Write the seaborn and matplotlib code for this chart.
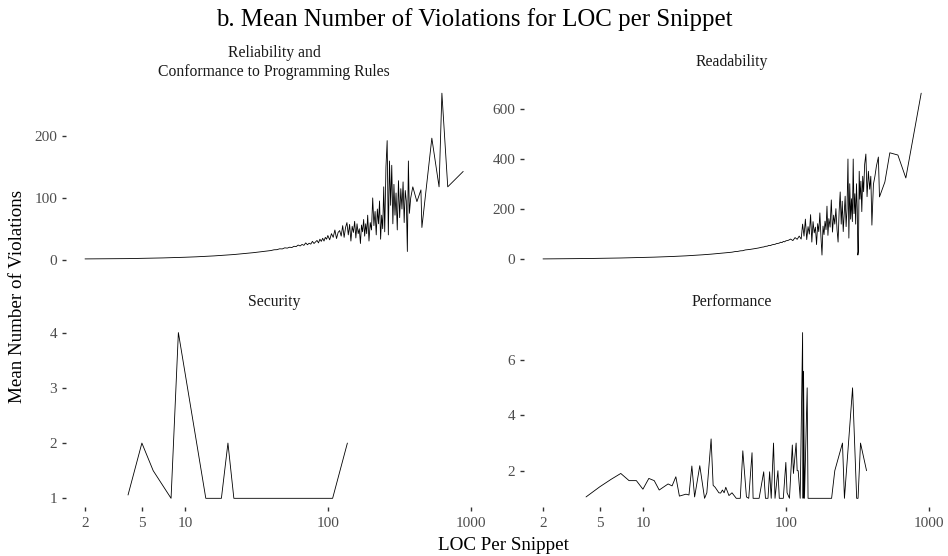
import numpy as np
import pandas as pd
import matplotlib
matplotlib.use("Agg")
import matplotlib.pyplot as plt
import seaborn as sns

# ---- mean violations per snippet, by lines of code ----
rel_loc = [2, 3, 4, 5, 6, 7, 8, 9, 10, 12,
           14, 16, 18, 20, 22, 24, 26, 28, 30, 32,
           34, 36, 38, 40, 42, 44, 46, 48, 50, 52,
           54, 56, 58, 60, 62, 64, 66, 68, 70, 72,
           74, 76, 78, 80, 82, 84, 86, 88, 90, 92,
           94, 96, 98, 100, 103, 106, 109, 112, 115, 118,
           121, 124, 127, 130, 133, 136, 139, 142, 145, 148,
           151, 154, 157, 160, 163, 166, 169, 172, 175, 178,
           181, 184, 187, 190, 194, 198, 202, 206, 210, 214,
           218, 222, 226, 230, 234, 238, 242, 246, 250, 255,
           260, 265, 270, 275, 280, 285, 290, 295, 300, 306,
           312, 318, 324, 330, 336, 342, 348, 354, 360, 366,
           372, 380, 393, 420, 448, 455, 534, 600, 628, 690,
           885]
rel_mean = [1, 1.2, 1.5, 1.9, 2.2, 2.6, 3.0, 3.3, 3.7, 4.4,
            5.2, 5.9, 6.7, 7.4, 8.1, 8.9, 9.6, 10.4, 11.1, 11.8,
            12.6, 13.3, 14.1, 14.6, 15.8, 16.0, 17.4, 17.2, 19.0, 18.5,
            20.0, 19.5, 21.5, 21.0, 23.5, 22.0, 24.5, 23.0, 27.0, 24.0,
            26.5, 25.0, 29.5, 26.0, 28.5, 31.0, 27.0, 33.0, 29.5, 34.5,
            30.0, 36.0, 33.0, 39.0, 32.0, 42.0, 36.0, 48.0, 34.0, 44.0,
            47.0, 38.0, 55.0, 36.0, 52.0, 60.0, 40.0, 57.0, 30.0, 54.0,
            44.0, 62.0, 35.0, 58.0, 42.0, 50.0, 26.0, 56.0, 45.0, 65.0,
            38.0, 58.0, 42.0, 72.0, 30.0, 60.0, 48.0, 100.0, 55.0, 78.0,
            40.0, 82.0, 58.0, 95.0, 33.0, 72.0, 50.0, 118.0, 45.0, 150.0,
            193.0, 40.0, 160.0, 88.0, 153.0, 58.0, 122.0, 72.0, 108.0, 48.0,
            128.0, 68.0, 115.0, 82.0, 126.0, 60.0, 112.0, 95.0, 13.0, 160.0,
            75.0, 100.0, 118.0, 94.0, 113.0, 52.0, 197.0, 118.0, 270.0, 118.0,
            143.0]

read_loc = [2, 3, 4, 5, 6, 7, 8, 9, 10, 12,
            14, 16, 18, 20, 22, 24, 26, 28, 30, 32,
            34, 36, 38, 40, 42, 44, 46, 48, 50, 52,
            54, 56, 58, 60, 62, 64, 66, 68, 70, 72,
            74, 76, 78, 80, 82, 84, 86, 88, 90, 92,
            94, 96, 98, 100, 104, 108, 112, 116, 120, 124,
            128, 131, 134, 137, 140, 143, 146, 149, 152, 155,
            158, 161, 164, 167, 170, 173, 176, 179, 182, 185,
            188, 191, 194, 197, 200, 204, 208, 212, 216, 220,
            224, 228, 232, 236, 240, 244, 248, 252, 256, 260,
            264, 268, 272, 276, 280, 284, 288, 292, 296, 300,
            304, 308, 312, 316, 319, 322, 326, 330, 335, 340,
            345, 350, 356, 363, 370, 378, 386, 393, 400, 410,
            420, 430, 444, 452, 493, 534, 608, 691, 885]
read_mean = [0.5, 1.2, 2.0, 2.8, 3.5, 4.2, 5.0, 5.6, 6.3, 7.6,
             8.9, 10.2, 11.5, 12.8, 14.2, 15.5, 16.9, 18.2, 19.6, 21.0,
             22.4, 23.8, 25.2, 26.8, 27.5, 29.8, 30.5, 32.8, 33.5, 36.5,
             37.5, 38.5, 40.0, 41.5, 43.0, 44.0, 46.0, 47.5, 48.5, 51.0,
             51.5, 54.5, 54.0, 57.0, 58.5, 59.0, 62.0, 62.5, 64.0, 67.5,
             66.0, 70.5, 69.0, 73.0, 75.0, 80.0, 74.0, 86.0, 79.0, 92.0,
             80.0, 140.0, 92.0, 160.0, 78.0, 130.0, 100.0, 178.0, 68.0, 150.0,
             105.0, 128.0, 58.0, 142.0, 110.0, 185.0, 90.0, 16.0, 132.0, 98.0,
             152.0, 118.0, 212.0, 95.0, 162.0, 128.0, 237.0, 108.0, 176.0, 140.0,
             202.0, 120.0, 68.0, 192.0, 269.0, 140.0, 232.0, 110.0, 178.0, 252.0,
             130.0, 202.0, 401.0, 84.0, 302.0, 160.0, 242.0, 150.0, 401.0, 182.0,
             262.0, 140.0, 302.0, 200.0, 16.0, 30.0, 352.0, 240.0, 312.0, 190.0,
             332.0, 270.0, 380.0, 421.0, 250.0, 352.0, 280.0, 332.0, 136.0, 300.0,
             332.0, 372.0, 409.0, 249.0, 309.0, 426.0, 417.0, 325.0, 665.0]

sec_loc = [4, 5, 6, 8, 9, 14, 18, 20, 22, 108, 137]
sec_mean = [1.06, 2.0, 1.5, 1.0, 4.0, 1.0, 1.0, 2.0, 1.0, 1.0, 2.0]

perf_loc = [4, 5, 6, 7, 8, 9, 10, 11, 12, 13,
            15, 16, 17, 18, 20, 21, 22, 23, 25, 27,
            28, 30, 31, 32, 34, 35, 36, 37, 38, 40,
            42, 45, 48, 50, 53, 55, 58, 59, 65, 70,
            72, 75, 77, 79, 82, 84, 88, 90, 96, 100,
            102, 104, 106, 111, 113, 118, 120, 122, 126, 131,
            132, 133, 135, 141, 143, 209, 220, 249, 257, 293,
            313, 320, 333, 367]
perf_mean = [1.05, 1.42, 1.69, 1.9, 1.64, 1.64, 1.33, 1.72, 1.64, 1.3,
             1.52, 1.45, 1.78, 1.08, 1.15, 1.12, 2.17, 1.05, 2.18, 1.0,
             1.2, 3.15, 1.47, 1.4, 1.2, 1.19, 1.3, 1.2, 1.4, 1.1,
             1.2, 1.0, 1.0, 2.72, 1.05, 1.0, 2.65, 1.0, 1.0, 1.96,
             1.0, 1.0, 1.96, 1.0, 3.0, 1.0, 2.0, 1.0, 1.0, 2.3,
             1.2, 1.1, 1.0, 2.93, 1.9, 3.0, 2.0, 2.0, 1.0, 7.0,
             1.0, 5.6, 1.0, 5.0, 1.0, 1.0, 2.0, 3.0, 1.0, 5.0,
             1.0, 1.0, 3.0, 2.0]

facet_names = ["Reliability and\nConformance to Programming Rules",
               "Readability", "Security", "Performance"]
y_ticks = [[0, 100, 200], [0, 200, 400, 600], [1, 2, 3, 4], [2, 4, 6]]
x_ticks = [2, 5, 10, 100, 1000]

frames = []
for name, loc, mean in zip(facet_names,
                           [rel_loc, read_loc, sec_loc, perf_loc],
                           [rel_mean, read_mean, sec_mean, perf_mean]):
    frames.append(pd.DataFrame({"loc": loc, "mean": mean, "facet": name}))
df = pd.concat(frames, ignore_index=True)

# ---- styling ----
sns.set_theme(style="white")
plt.rcParams["font.family"] = ["Liberation Serif", "DejaVu Serif"]
tick_grey = "#4D4D4D"

W, H = 948, 556
fig = plt.figure(figsize=(W / 100, H / 100), dpi=100)

col_x = [66.1 / W, 524.1 / W]
row_y = [1 - 267.2 / H, 1 - 506.6 / H]
pw, ph = 416.0 / W, 182.3 / H

# shared log x range with 5% padding in log space
lx = np.log10(df["loc"].to_numpy())
lpad = 0.05 * (lx.max() - lx.min())
xlim = (10 ** (lx.min() - lpad), 10 ** (lx.max() + lpad))

for i, name in enumerate(facet_names):
    r, c = divmod(i, 2)
    ax = fig.add_axes([col_x[c], row_y[r], pw, ph])
    sub = df[df["facet"] == name]
    sns.lineplot(data=sub, x="loc", y="mean", ax=ax, color="black",
                 linewidth=0.6, estimator=None, sort=True)
    ax.set_xscale("log")
    ax.set_xlim(*xlim)
    lo, hi = sub["mean"].min(), sub["mean"].max()
    pad = 0.05 * (hi - lo)
    ax.set_ylim(lo - pad, hi + pad)
    ax.set_yticks(y_ticks[i])
    ax.set_yticklabels([str(t) for t in y_ticks[i]])
    ax.minorticks_off()
    ax.set_xticks(x_ticks)
    if r == 1:
        ax.set_xticklabels([str(t) for t in x_ticks])
        ax.tick_params(axis="x", bottom=True, length=3.0, width=1.0,
                       color="#333333", pad=4.5, labelsize=11,
                       labelcolor=tick_grey)
    else:
        ax.tick_params(axis="x", bottom=False, labelbottom=False)
    ax.tick_params(axis="y", left=True, length=3.0, width=1.0,
                   color="#333333", pad=3.4, labelsize=11,
                   labelcolor=tick_grey)
    ax.minorticks_off()
    ax.set_xlabel("")
    ax.set_ylabel("")
    for s in ax.spines.values():
        s.set_visible(False)
    ax.grid(False)
    ax.text(0.5, 1 + 22.5 / 182.3, name, transform=ax.transAxes,
            ha="center", va="center", fontsize=11.3, color="#1A1A1A",
            linespacing=1.2)

fig.text(0.5, 1 - 20 / H, "b. Mean Number of Violations for LOC per Snippet",
         ha="center", va="center", fontsize=17.9, color="black")
fig.text(503 / W, 1 - 545 / H, "LOC Per Snippet", ha="center", va="center",
         fontsize=13.7, color="black")
fig.text(18 / W, 1 - 296 / H, "Mean Number of Violations", ha="center",
         va="center", rotation=90, fontsize=13.7, color="black")

fig.savefig("out.png", dpi=100, facecolor="white")
